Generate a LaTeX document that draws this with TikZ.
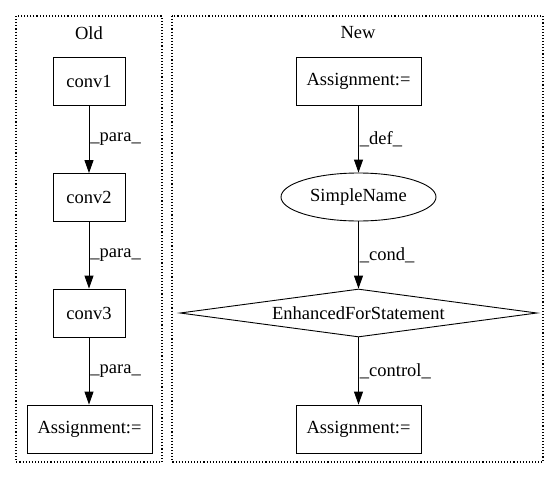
\documentclass[tikz,border=0pt]{standalone}
\usepackage{fontspec}
\setmainfont{Liberation Serif}
\usetikzlibrary{arrows.meta}
\usetikzlibrary{shapes.geometric}

\begin{document}
\begin{tikzpicture}[x=1pt, y=-1pt, line width=0.9pt,
	font=\fontsize{18.5}{22}\selectfont,
	box/.style={draw, rectangle, inner sep=0pt, minimum height=48pt},
	flow/.style={-{Triangle[length=13pt, width=9pt]}},
	cluster/.style={dotted, line width=1.1pt},
	elabel/.style={right, inner sep=1pt}]
	 % Fix the page size
	 \useasboundingbox (0,0) rectangle (560,480);

	 % The two clusters
	 \draw[cluster] (16,16) rectangle (162,462);
	 \draw[cluster] (172,16) rectangle (543,462);
	 \node (old) at (89,33) {Old};
	 \node (new) at (358,33) {New};

	 % Old side
	 \node[box, minimum width=72pt] (conv1) at (89,81.5) {conv1};
	 \node[box, minimum width=72pt] (conv2) at (89,197.5) {conv2};
	 \node[box, minimum width=72pt] (conv3) at (89,313) {conv3};
	 \node[box, minimum width=125pt] (assignold) at (89.5,429) {Assignment:=};

	 \draw[flow] (conv1) to[] node[midway, elabel] {\_para\_} (conv2);
	 \draw[flow] (conv2) to[] node[midway, elabel] {\_para\_} (conv3);
	 \draw[flow] (conv3) to[] node[midway, elabel] {\_para\_} (conv3 |- assignold.north);

	 % New side
	 \node[box, minimum width=125pt] (assigntop) at (358.5,81.5) {Assignment:=};
	 \node[draw, ellipse, inner sep=0pt, minimum width=155pt, minimum height=48pt] (simplename) at (358.5,197) {SimpleName};
	 \node[draw, diamond, aspect=7.4, inner sep=0pt, minimum width=357pt, minimum height=48pt] (forstmt) at (358.5,313) {EnhancedForStatement};
	 \node[box, minimum width=125pt] (assignbot) at (358.5,429) {Assignment:=};

	 \draw[flow] (assigntop) to[] node[midway, elabel] {\_def\_} (simplename);
	 \draw[flow] (simplename) to[] node[midway, elabel] {\_cond\_} (forstmt);
	 \draw[flow] (forstmt) to[] node[midway, elabel] {\_control\_} (assignbot);
\end{tikzpicture}
\end{document}
